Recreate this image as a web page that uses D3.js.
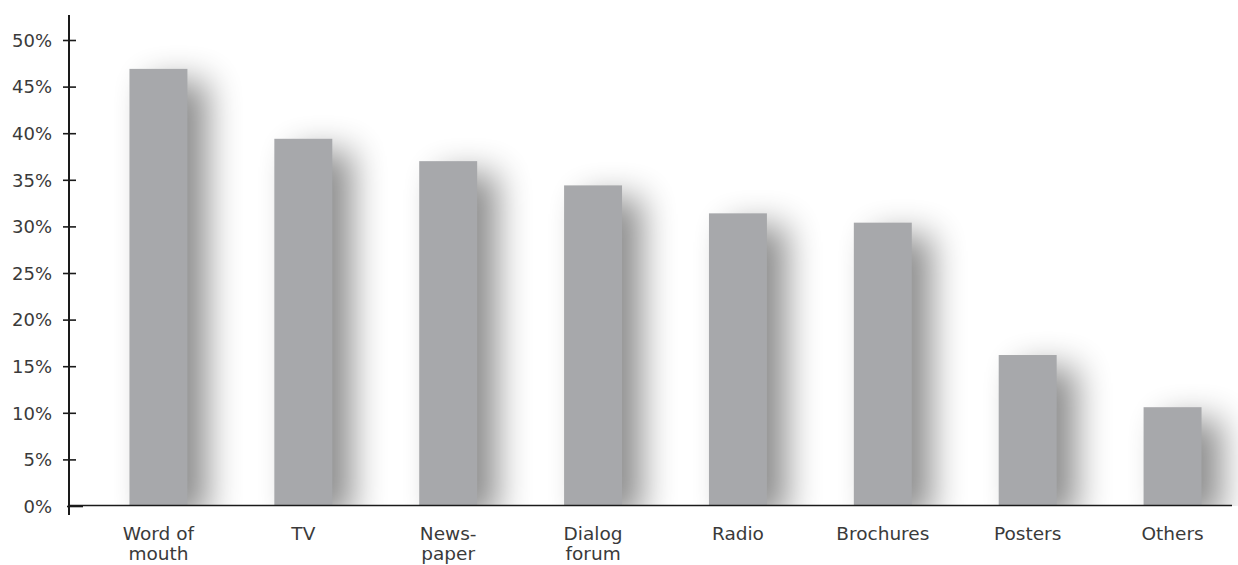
<!DOCTYPE html>
<html>
<head>
<meta charset="utf-8">
<script src="https://cdn.jsdelivr.net/npm/d3@7"></script>
<style>
  body { margin: 0; background: #fff; }
  svg text { font-family: "DejaVu Sans", Lato, sans-serif; fill: #3a3a3a; }
</style>
</head>
<body>
<div id="chart"></div>
<script>
// chart data
let categories = ["Word of mouth", "TV", "Newspaper", "Dialog forum", "Radio", "Brochures", "Posters", "Others"]
let labelLines = [["Word of", "mouth"], ["TV"], ["News-", "paper"], ["Dialog", "forum"], ["Radio"], ["Brochures"], ["Posters"], ["Others"]]
let values = [46.9, 39.4, 37.0, 34.4, 31.4, 30.4, 16.2, 10.6]
let tickValues = [0, 5, 10, 15, 20, 25, 30, 35, 40, 45, 50]

let width = 1238
let height = 565

let svg = d3
  .select("#chart")
  .append("svg")
  .attr("width", width)
  .attr("height", height)

let x = d3
  .scaleBand()
  .domain(categories)
  .range([86, 1245])
  .paddingInner(0.6)
  .paddingOuter(0.3)

let y = d3.scaleLinear().domain([0, 50]).range([506, 40])

//////////////////////////////////////////////////////////////////////
// SHADOW FILTER + CLIP
//////////////////////////////////////////////////////////////////////
let defs = svg.append("defs")
let filter = defs
  .append("filter")
  .attr("id", "shadow")
  .attr("x", "-100%")
  .attr("y", "-50%")
  .attr("width", "340%")
  .attr("height", "200%")
filter
  .append("feGaussianBlur")
  .attr("in", "SourceAlpha")
  .attr("stdDeviation", 17)
  .attr("result", "blur")
filter
  .append("feOffset")
  .attr("in", "blur")
  .attr("dx", 20)
  .attr("dy", 12)
  .attr("result", "off")
filter
  .append("feComponentTransfer")
  .attr("in", "off")
  .attr("result", "shade")
  .append("feFuncA")
  .attr("type", "linear")
  .attr("slope", 0.45)

defs
  .append("clipPath")
  .attr("id", "plotClip")
  .append("rect")
  .attr("x", 70)
  .attr("y", 0)
  .attr("width", width - 70)
  .attr("height", y(0))

// shadows
svg
  .append("g")
  .attr("clip-path", "url(#plotClip)")
  .selectAll("rect")
  .data(values)
  .join("rect")
  .attr("x", (d, i) => x(categories[i]))
  .attr("y", (d) => y(d))
  .attr("width", x.bandwidth())
  .attr("height", (d) => y(0) - y(d))
  .attr("fill", "#000")
  .attr("filter", "url(#shadow)")

// bars
svg
  .append("g")
  .selectAll("rect")
  .data(values)
  .join("rect")
  .attr("x", (d, i) => x(categories[i]))
  .attr("y", (d) => y(d))
  .attr("width", x.bandwidth())
  .attr("height", (d) => y(0) - y(d))
  .attr("fill", "#a7a8ab")

//////////////////////////////////////////////////////////////////////
// AXES
//////////////////////////////////////////////////////////////////////
let yAxis = svg
  .append("g")
  .attr("transform", "translate(69,0)")
  .call(
    d3
      .axisLeft(y)
      .tickValues(tickValues)
      .tickSize(0)
      .tickPadding(17)
      .tickFormat((d) => d + "%")
  )
yAxis.select(".domain").remove()
yAxis
  .selectAll(".tick text")
  .attr("font-size", 18)
  .attr("dy", "0.35em")
  .style("fill", "#3a3a3a")
  .style("font-family", "'DejaVu Sans', sans-serif")
yAxis
  .selectAll(".tick")
  .append("line")
  .attr("x1", (d) => (d === 0 ? -2 : -6))
  .attr("x2", (d) => (d === 0 ? 14 : 7))
  .attr("stroke", "#1a1a1a")
  .attr("stroke-width", 1.6)

svg
  .append("line")
  .attr("x1", 69)
  .attr("x2", 69)
  .attr("y1", 15)
  .attr("y2", 515)
  .attr("stroke", "#1a1a1a")
  .attr("stroke-width", 2)

svg
  .append("line")
  .attr("x1", 68)
  .attr("x2", 1232)
  .attr("y1", y(0) - 0.5)
  .attr("y2", y(0) - 0.5)
  .attr("stroke", "#1a1a1a")
  .attr("stroke-width", 1.5)

// category labels
let labels = svg
  .append("g")
  .selectAll("text")
  .data(categories)
  .join("text")
  .attr("x", (d) => x(d) + x.bandwidth() / 2)
  .attr("y", 540)
  .attr("text-anchor", "middle")
  .attr("font-size", 18.5)

labels
  .selectAll("tspan")
  .data((d, i) => labelLines[i])
  .join("tspan")
  .attr("x", function () {
    return d3.select(this.parentNode).attr("x")
  })
  .attr("dy", (d, i) => (i === 0 ? 0 : 20))
  .text((d) => d)
</script>
</body>
</html>
